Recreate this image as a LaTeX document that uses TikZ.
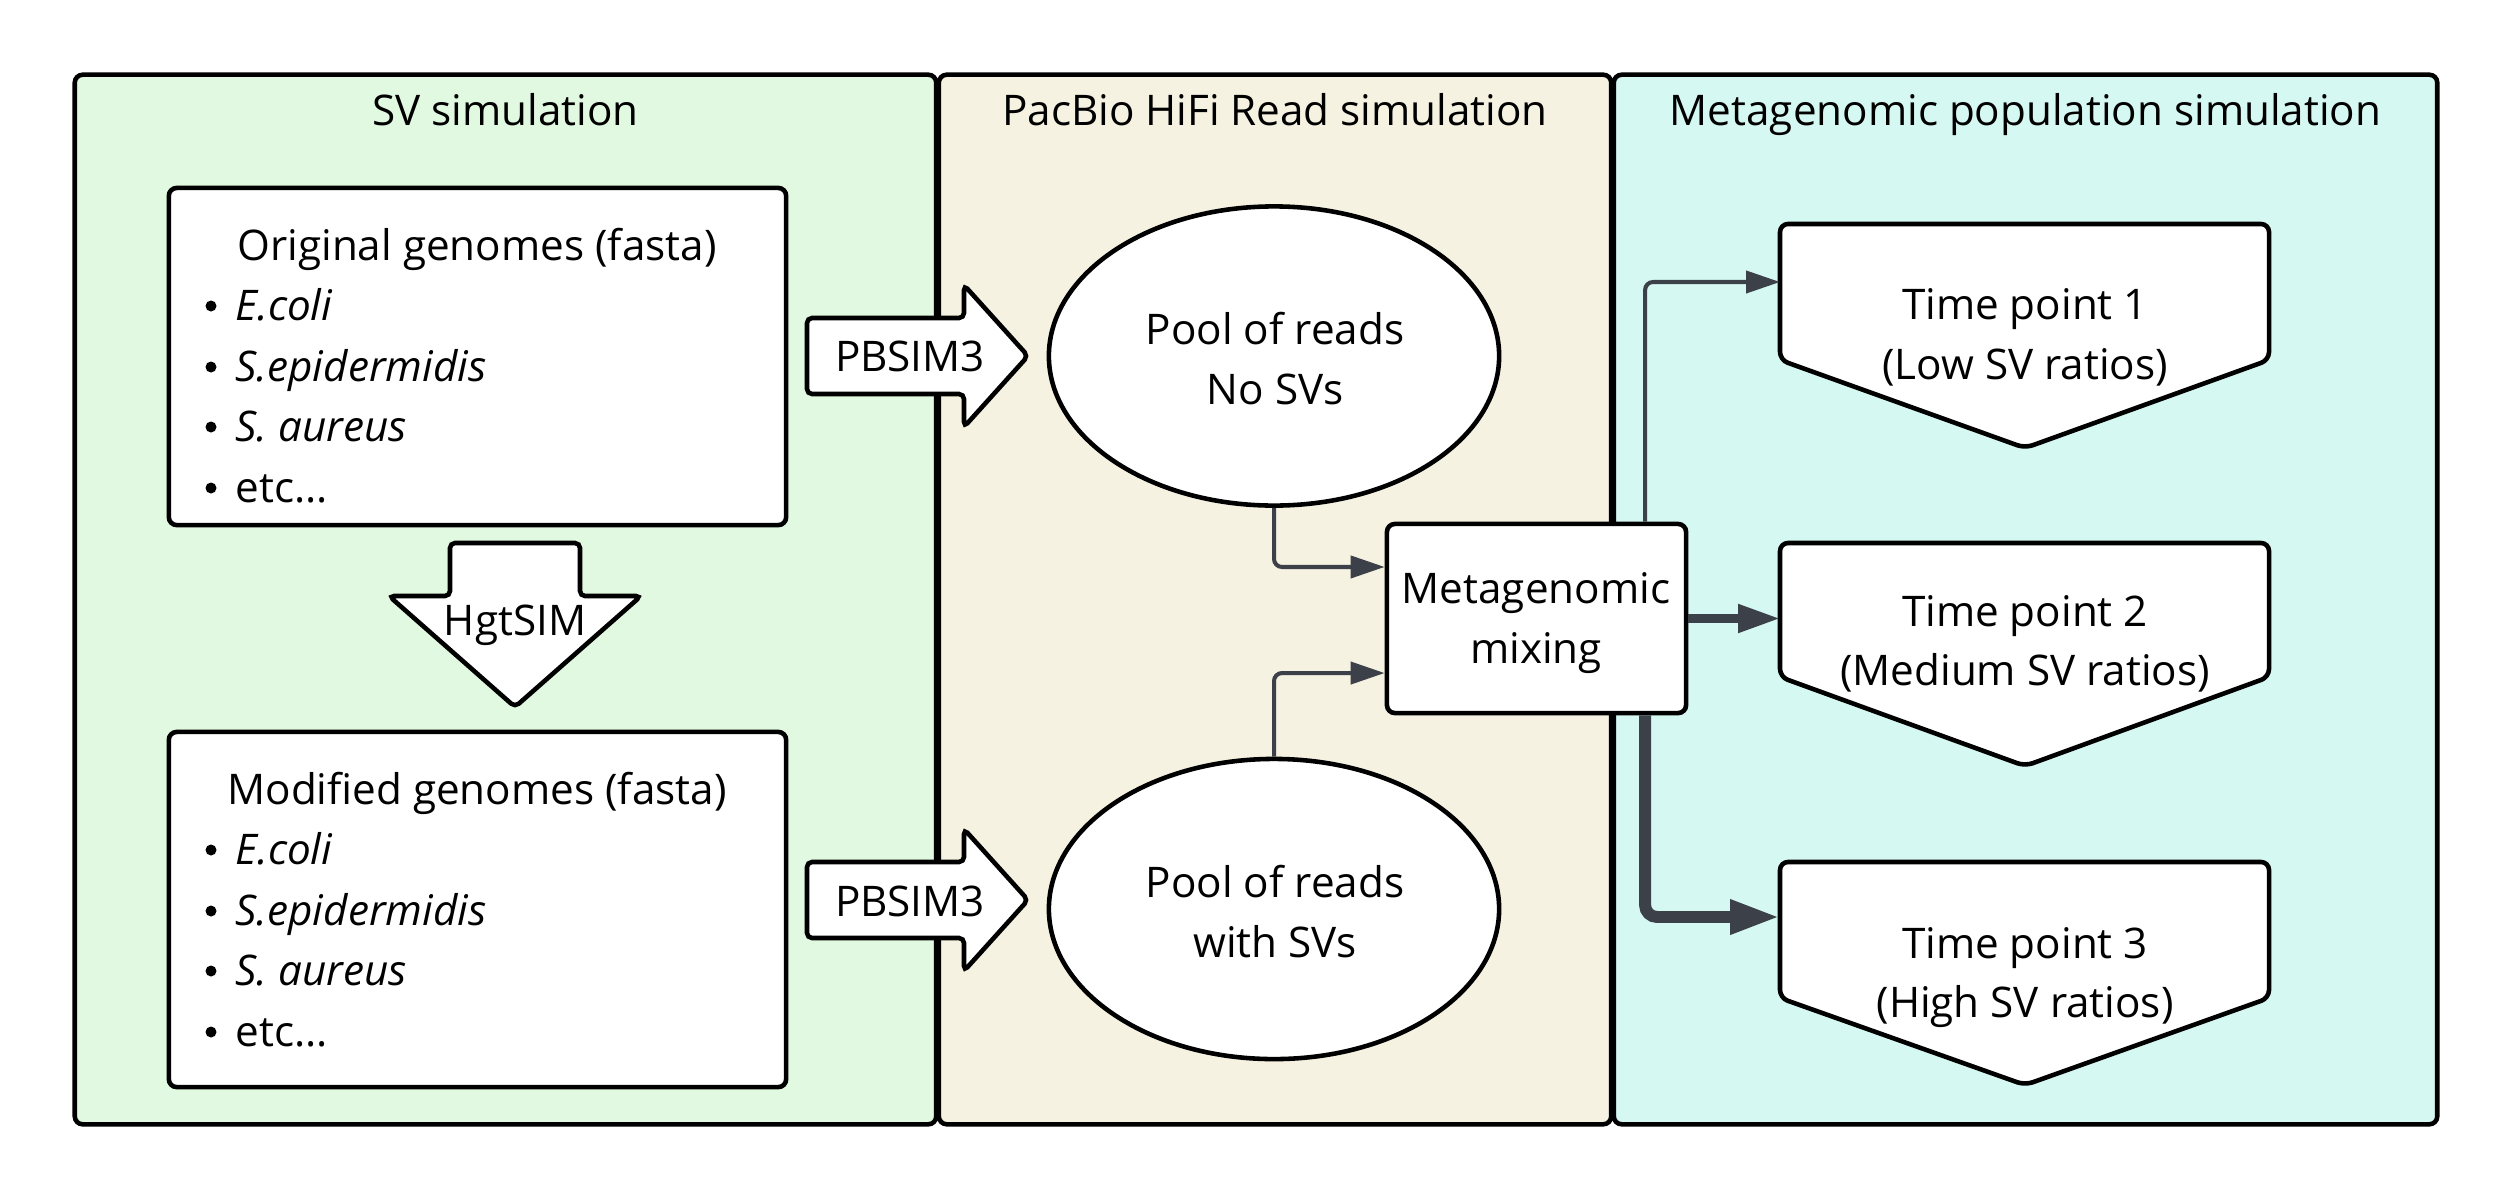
\documentclass[tikz,border=0pt]{standalone}
\usepackage{fontspec}
\setmainfont{Open Sans}
\usetikzlibrary{shapes.geometric,arrows.meta}
\definecolor{pgreen}{RGB}{225,248,225}
\definecolor{pbeige}{RGB}{246,242,226}
\definecolor{pcyan}{RGB}{214,248,242}
\definecolor{conn}{RGB}{59,64,73}
\begin{document}
\begin{tikzpicture}[x=0.01cm,y=-0.01cm,
  font=\fontsize{12}{14}\selectfont,
  panelbox/.style={draw=black, line width=1.3pt, rounded corners=0.08cm, inner sep=0, outer sep=0},
  whitebox/.style={draw=black, fill=white, line width=1.3pt, rounded corners=0.08cm, inner sep=0},
  pool/.style={ellipse, draw=black, fill=white, line width=1.3pt, inner sep=0, minimum width=4.5cm, minimum height=2.99cm},
  bigarrow/.style={draw=black, fill=white, line width=1.3pt, rounded corners=0.05cm},
  tpshape/.style={draw=black, fill=white, line width=1.3pt, rounded corners=0.08cm},
  lbl/.style={anchor=base, inner sep=0},
  dot/.style={circle, fill=black, inner sep=0, minimum size=0.11cm},
  item/.style={anchor=base west, inner sep=0, font=\fontsize{12}{14}\selectfont\itshape},
  conthin/.style={draw=conn, line width=1.15pt, rounded corners=0.08cm, -{Triangle[length=0.34cm,width=0.22cm]}},
  conmed/.style={draw=conn, line width=2.3pt, -{Triangle[length=0.42cm,width=0.27cm]}},
  conthick/.style={draw=conn, line width=3.4pt, rounded corners=0.12cm, -{Triangle[length=0.5cm,width=0.32cm]}}
]
\useasboundingbox (0,0) rectangle (2513,1200);

% panels
\node[panelbox, fill=pgreen, minimum width=8.61cm, minimum height=10.49cm] (p1) at (505.5,599.5) {};
\node[panelbox, fill=pbeige, minimum width=6.72cm, minimum height=10.49cm] (p2) at (1275,599.5) {};
\node[panelbox, fill=pcyan, minimum width=8.23cm, minimum height=10.49cm] (p3) at (2025.5,599.5) {};
\node[lbl] (t1) at (505.5,125) {SV simulation};
\node[lbl] (t2) at (1275,125) {PacBio HiFi Read simulation};
\node[lbl] (t3) at (2025.5,125) {Metagenomic population simulation};

% genome boxes
\node[whitebox, minimum width=6.17cm, minimum height=3.37cm] (g1) at (477.5,356.5) {};
\node[lbl] (g1h) at (477,260) {Original genomes (fasta)};
\node[dot] (g1d1) at (211,306) {}; \node[item] (g1i1) at (235,320) {E.coli};
\node[dot] (g1d2) at (211,367) {}; \node[item] (g1i2) at (235,381) {S.epidermidis};
\node[dot] (g1d3) at (211,427) {}; \node[item] (g1i3) at (235,441) {S. aureus};
\node[dot] (g1d4) at (211,488) {}; \node[item, font=\fontsize{12}{14}\selectfont] (g1i4) at (235,502) {etc...};

\node[whitebox, minimum width=6.17cm, minimum height=3.55cm] (g2) at (477.5,909.5) {};
\node[lbl] (g2h) at (477,804) {Modified genomes (fasta)};
\node[dot] (g2d1) at (211,850) {}; \node[item] (g2i1) at (235,864) {E.coli};
\node[dot] (g2d2) at (211,911) {}; \node[item] (g2i2) at (235,925) {S.epidermidis};
\node[dot] (g2d3) at (211,971) {}; \node[item] (g2i3) at (235,985) {S. aureus};
\node[dot] (g2d4) at (211,1032) {}; \node[item, font=\fontsize{12}{14}\selectfont] (g2i4) at (235,1046) {etc...};

% HgtSIM arrow
\draw[bigarrow] (450,543) -- (580,543) -- (580,596) -- (641,596) -- (515,707) -- (389,596) -- (450,596) -- cycle;
\node[lbl] (hg) at (515,635) {HgtSIM};

% PBSIM3 arrows
\draw[bigarrow] (807,318) -- (964,318) -- (964,285) -- (1028,356) -- (964,427) -- (964,394) -- (807,394) -- cycle;
\node[lbl] (pb1) at (910,371) {PBSIM3};
\draw[bigarrow] (807,862) -- (964,862) -- (964,829) -- (1028,900) -- (964,971) -- (964,938) -- (807,938) -- cycle;
\node[lbl] (pb2) at (910,916) {PBSIM3};

% pools
\node[pool] (e1) at (1274,356) {};
\node[lbl] (e1a) at (1275,344) {Pool of reads};
\node[lbl] (e1b) at (1275,404) {No SVs};
\node[pool, minimum height=3.0cm] (e2) at (1274,909) {};
\node[lbl] (e2a) at (1275,897) {Pool of reads};
\node[lbl] (e2b) at (1275,957) {with SVs};

% mixing
\node[whitebox, minimum width=2.99cm, minimum height=1.89cm] (mix) at (1536.5,618.5) {};
\node[lbl] (mxa) at (1536,603) {Metagenomic};
\node[lbl] (mxb) at (1536,663) {mixing};

% time points
\draw[tpshape] (1780,224) -- (2269,224) -- (2269,360) -- (2025,448) -- (1780,360) -- cycle;
\node[lbl] (tp1a) at (2025,319.5) {Time point 1};
\node[lbl] (tp1b) at (2025,379) {(Low SV ratios)};
\draw[tpshape] (1780,543) -- (2269,543) -- (2269,677) -- (2025,766) -- (1780,677) -- cycle;
\node[lbl] (tp2a) at (2025,626) {Time point 2};
\node[lbl] (tp2b) at (2025,685) {(Medium SV ratios)};
\draw[tpshape] (1780,862) -- (2269,862) -- (2269,998) -- (2025,1085) -- (1780,998) -- cycle;
\node[lbl] (tp3a) at (2025,958) {Time point 3};
\node[lbl] (tp3b) at (2025,1017) {(High SV ratios)};

\coordinate (tp1in) at (1780,282);
\coordinate (tp2in) at (1780,618.5);
\coordinate (tp3in) at (1780,917);

% connectors
\draw[conthin] (e1.south) |- ([yshift=0.515cm]mix.west);
\draw[conthin] (e2.north) |- ([yshift=-0.545cm]mix.west);
\draw[conthin] ([xshift=1.085cm]mix.north) |- (tp1in);
\draw[conmed] (mix.east) -- (tp2in);
\draw[conthick] ([xshift=1.085cm]mix.south) |- (tp3in);
\end{tikzpicture}
\end{document}
